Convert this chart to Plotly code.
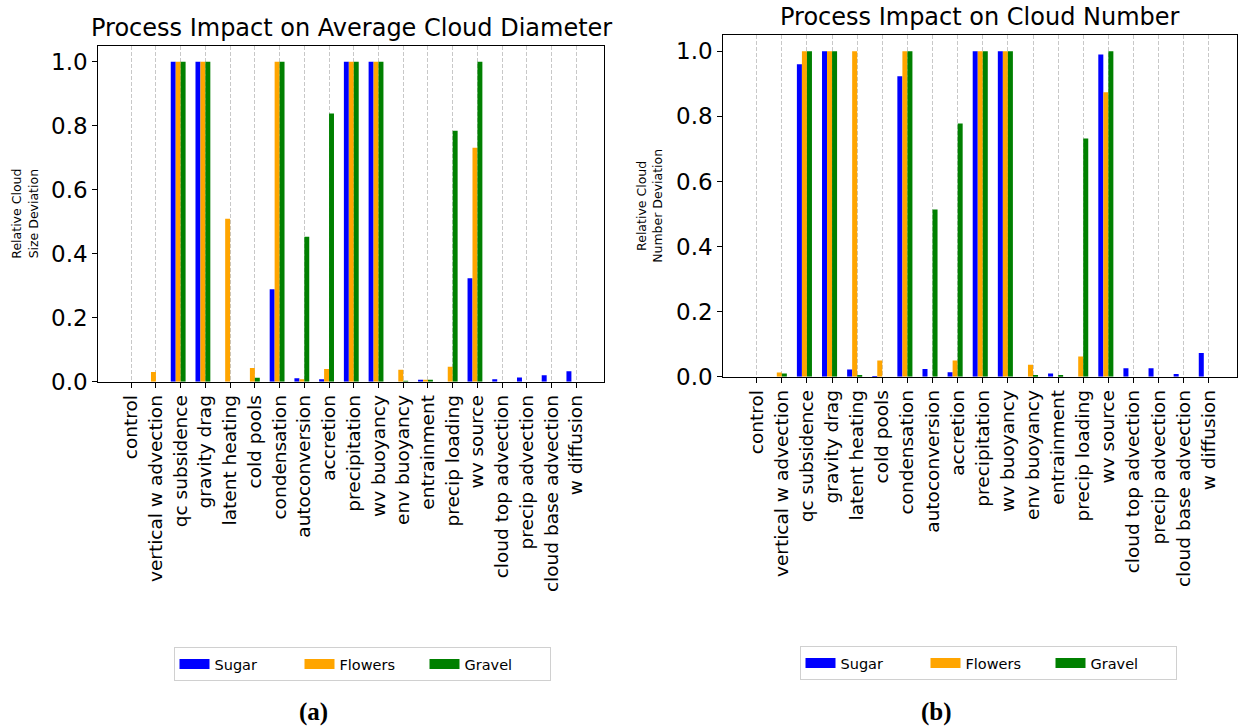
import plotly.graph_objects as go

W, H = 1238, 727

categories = [
    "control", "vertical w advection", "qc subsidence", "gravity drag",
    "latent heating", "cold pools", "condensation", "autoconversion",
    "accretion", "precipitation", "wv buoyancy", "env buoyancy",
    "entrainment", "precip loading", "wv source", "cloud top advection",
    "precip advection", "cloud base advection", "w diffusion",
]

# Panel (a): relative cloud size deviation
sugar_size = [0.0, 0.0, 1.0, 1.0, 0.0, 0.0, 0.289, 0.011, 0.008, 1.0,
              1.0, 0.0, 0.005, 0.0, 0.323, 0.008, 0.013, 0.020, 0.033]
flowers_size = [0.0, 0.030, 1.0, 1.0, 0.509, 0.043, 1.0, 0.008, 0.040, 1.0,
                1.0, 0.037, 0.006, 0.047, 0.731, 0.0, 0.0, 0.0, 0.0]
gravel_size = [0.0, 0.0, 1.0, 1.0, 0.0, 0.012, 1.0, 0.453, 0.838, 1.0,
               1.0, 0.003, 0.005, 0.784, 1.0, 0.0, 0.0, 0.0, 0.0]

# Panel (b): relative cloud number deviation
sugar_num = [0.0, 0.0, 0.960, 1.0, 0.022, 0.002, 0.923, 0.024, 0.014, 1.0,
             1.0, 0.0, 0.010, 0.0, 0.990, 0.026, 0.026, 0.008, 0.073]
flowers_num = [0.0, 0.013, 1.0, 1.0, 1.0, 0.050, 1.0, 0.0, 0.050, 1.0,
               1.0, 0.037, 0.0, 0.062, 0.874, 0.0, 0.0, 0.0, 0.0]
gravel_num = [0.0, 0.010, 1.0, 1.0, 0.004, 0.0, 1.0, 0.514, 0.778, 1.0,
              1.0, 0.004, 0.004, 0.732, 1.0, 0.0, 0.0, 0.0, 0.0]

y_ticks = [0.0, 0.2, 0.4, 0.6, 0.8, 1.0]

FONT = "DejaVu Sans"


def fx(px):
    return px / W


def fy(py):
    return 1 - py / H


# axis boxes in pixels: (left, right, top, bottom)
box_a = (98.3, 604.3, 45.7, 381.7)
box_b = (723.3, 1237.2, 35.0, 376.7)

fig = go.Figure()

styles = [("Sugar", "#0000ff", -0.4), ("Flowers", "#ffa500", -0.2), ("Gravel", "#008000", 0.0)]
xs = list(range(len(categories)))

panels = [
    ("x", "y", "legend", [sugar_size, flowers_size, gravel_size]),
    ("x2", "y2", "legend2", [sugar_num, flowers_num, gravel_num]),
]
for xa, ya, leg, series in panels:
    for (name, color, off), vals in zip(styles, series):
        fig.add_trace(go.Bar(x=xs, y=vals, name=name,
                             marker=dict(color=color, line=dict(width=0)),
                             offset=off, width=0.2, xaxis=xa, yaxis=ya,
                             showlegend=False))
    # legend-only entries drawn as wide patches (matplotlib style)
    for name, color, _ in styles:
        fig.add_trace(go.Scatter(x=[None], y=[None], mode="lines", name=name,
                                 line=dict(color=color, width=10),
                                 xaxis=xa, yaxis=ya, legend=leg, hoverinfo="skip"))

common_x = dict(
    tickmode="array", tickvals=xs, ticktext=categories, tickangle=-90,
    range=[-1.33, 19.13], showgrid=True, gridcolor="#c8c8c8", griddash="4px,2px",
    gridwidth=0.8, showline=True, linecolor="black", linewidth=1, mirror=True,
    ticks="outside", ticklen=5, tickcolor="black", tickwidth=1,
    tickfont=dict(family=FONT, size=18.5, color="black"), zeroline=False,
    automargin=False,
)
common_y = dict(
    tickmode="array", tickvals=y_ticks, ticktext=[f"{v:.1f}" for v in y_ticks],
    range=[0, 1.05], showgrid=False, showline=True, linecolor="black", linewidth=1,
    mirror=True, ticks="outside", ticklen=5, tickcolor="black", tickwidth=1,
    tickfont=dict(family=FONT, size=23, color="black"), zeroline=False,
    automargin=False,
)

legend_common = dict(
    orientation="h", xanchor="center", yanchor="top",
    bordercolor="#d0d0d0", borderwidth=1, bgcolor="white",
    font=dict(family=FONT, size=14.5, color="black"),
    entrywidth=80, entrywidthmode="pixels", tracegroupgap=0,
)

fig.update_layout(
    width=W, height=H, margin=dict(l=0, r=0, t=0, b=0, pad=0), autosize=False,
    paper_bgcolor="white", plot_bgcolor="white", barmode="overlay",
    xaxis=dict(domain=[fx(box_a[0]), fx(box_a[1])], anchor="y", **common_x),
    yaxis=dict(domain=[fy(box_a[3]), fy(box_a[2])], anchor="x", **common_y),
    xaxis2=dict(domain=[fx(box_b[0]), fx(box_b[1])], anchor="y2", **common_x),
    yaxis2=dict(domain=[fy(box_b[3]), fy(box_b[2])], anchor="x2", **common_y),
    legend=dict(x=fx(362), y=fy(647), **legend_common),
    legend2=dict(x=fx(988), y=fy(646), **legend_common),
    showlegend=True,
)

annotations = [
    dict(text="Process Impact on Average Cloud Diameter", x=fx((box_a[0] + box_a[1]) / 2),
         y=fy(box_a[2] - 2), xanchor="center", yanchor="bottom",
         font=dict(family=FONT, size=24, color="black")),
    dict(text="Process Impact on Cloud Number", x=fx((box_b[0] + box_b[1]) / 2),
         y=fy(box_b[2] - 2), xanchor="center", yanchor="bottom",
         font=dict(family=FONT, size=24, color="black")),
    dict(text="Relative Cloud<br>Size Deviation", x=fx(25), y=fy((box_a[2] + box_a[3]) / 2),
         xanchor="center", yanchor="middle", textangle=-90,
         font=dict(family=FONT, size=12.5, color="black")),
    dict(text="Relative Cloud<br>Number Deviation", x=fx(650), y=fy((box_b[2] + box_b[3]) / 2),
         xanchor="center", yanchor="middle", textangle=-90,
         font=dict(family=FONT, size=12.5, color="black")),
    dict(text="<b>(a)</b>", x=fx(313), y=fy(712), xanchor="center", yanchor="middle",
         font=dict(family="Liberation Serif", size=25, color="black")),
    dict(text="<b>(b)</b>", x=fx(936), y=fy(712), xanchor="center", yanchor="middle",
         font=dict(family="Liberation Serif", size=25, color="black")),
]
for a in annotations:
    a.update(xref="paper", yref="paper", showarrow=False)
fig.update_layout(annotations=annotations)

fig.write_html("out.html")
